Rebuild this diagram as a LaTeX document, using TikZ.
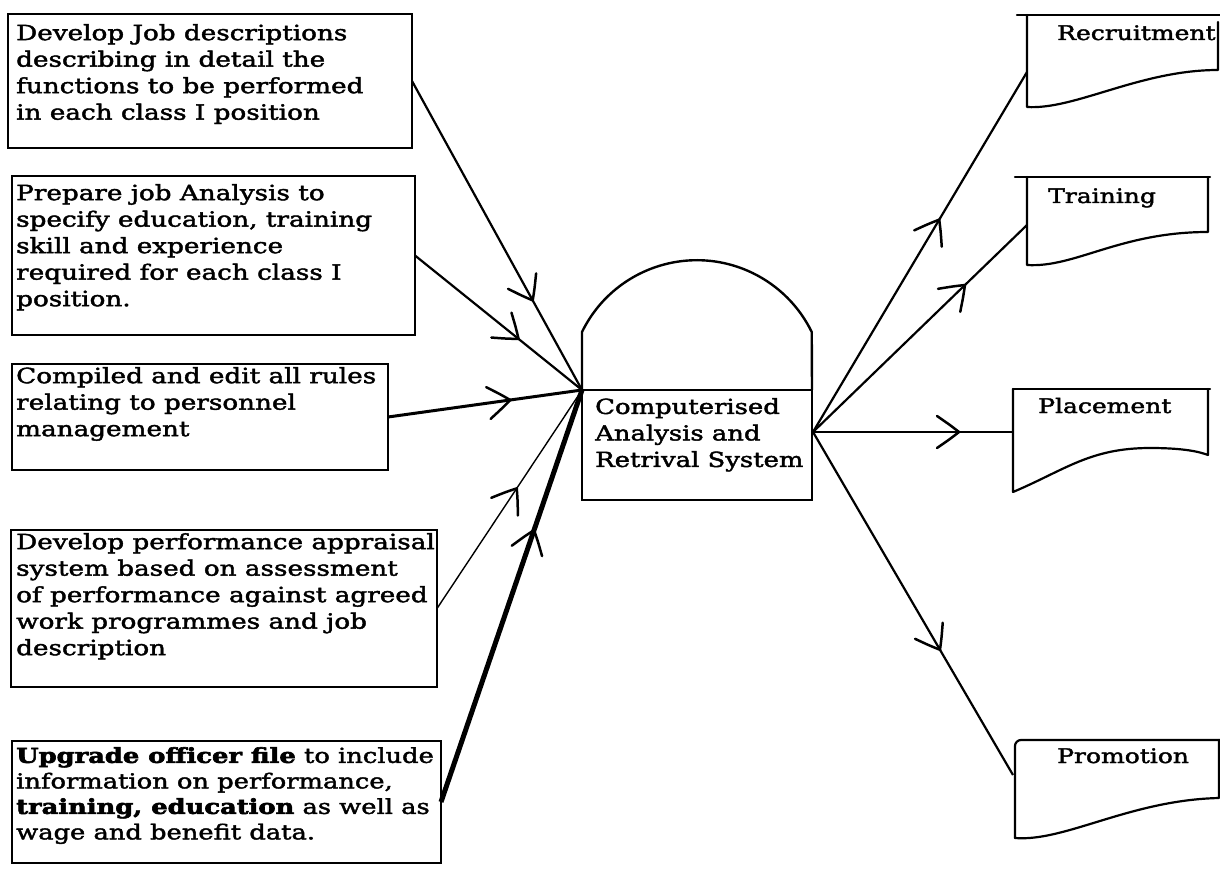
\documentclass[tikz,border=0pt]{standalone}
\usepackage{fontspec}
\setmainfont{DejaVu Serif}[FakeStretch=1.25, UprightFeatures={FakeBold=2}, BoldFeatures={FakeBold=3}]
\usetikzlibrary{arrows.meta,decorations.markings}
\begin{document}
\begin{tikzpicture}[x=1pt,y=-1pt,
  box/.style={draw, line width=2.2pt, inner sep=0, outer sep=0, anchor=north west},
  txt/.style={inner sep=0, anchor=north west, align=left, font=\fontsize{21}{26.5}\selectfont},
  lbl/.style={inner sep=0, anchor=base west, font=\fontsize{20}{24}\selectfont},
  flowline/.style={line width=2.2pt, postaction={decorate}, decoration={markings, mark=at position #1 with {\draw[line width=2.5pt, line cap=round, solid] (-22pt,16pt) .. controls (-9pt,7pt) .. (0pt,0pt) .. controls (-9pt,-7pt) .. (-22pt,-16pt);}}},
  doc/.style={line width=2.2pt, line join=round, line cap=round}
]
\useasboundingbox (0,0) rectangle (1220,869);
% left boxes
\node[box, minimum width=404, minimum height=134] (b1) at (8,14) {};
\node[box, minimum width=403, minimum height=159] (b2) at (12,176) {};
\node[box, minimum width=376, minimum height=106] (b3) at (12,364) {};
\node[box, minimum width=426, minimum height=157] (b4) at (11,530) {};
\node[box, minimum width=429, minimum height=122] (b5) at (12,741) {};
\node[txt] (t1) at (16,24) {Develop Job descriptions\\describing in detail the\\functions to be performed\\in each class I position};
\node[txt] (t2) at (16,184) {Prepare job Analysis to\\specify education, training\\skill and experience\\required for each class I\\position.};
\node[txt] (t3) at (16,367) {Compiled and edit all rules\\relating to personnel\\management};
\node[txt] (t4) at (16,533) {Develop performance appraisal\\system based on assessment\\of performance against agreed\\work programmes and job\\description};
\node[txt, font=\fontsize{20.6}{25.5}\selectfont] (t5) at (16,747) {\textbf{Upgrade officer file} to include\\information on performance,\\\textbf{training, education} as well as\\wage and benefit data.};
% centre
\node[box, line width=2.4pt, minimum width=230, minimum height=110] (c) at (582,390) {};
\draw[line width=2.4pt, line join=round] (c.north west) -- ++(0,-58) arc[start angle=206, end angle=334, radius=127.8] -- (c.north east);
\node[txt, font=\fontsize{20.7}{26.5}\selectfont] (ct) at (595,398) {Computerised\\Analysis and\\Retrival System};
\coordinate (cr) at (813,432);
% inputs
\draw[flowline=0.71] (b1.east) -- (c.north west);
\draw[flowline=0.62] (b2.east) -- (c.north west);
\draw[flowline=0.63, line width=3pt] (b3.east) -- (c.north west);
\draw[flowline=0.55, line width=1.4pt] (b4.east) -- (c.north west);
\draw[flowline=0.66, line width=5pt] (b5.east) -- (c.north west);
% documents
\draw[doc] (1017,15) -- (1220,15);
\draw[doc] (1027,15) -- (1027,107) .. controls (1075,110) and (1140,70) .. (1218,70) -- (1218,22);
\coordinate (recA) at (1027,72);
\node[lbl] (recL) at (1057,40) {Recruitment};
\draw[doc] (1015,177) -- (1210,177);
\draw[doc] (1027,177) -- (1027,265) .. controls (1075,268) and (1120,232) .. (1208,232) -- (1208,177);
\coordinate (traA) at (1027,225);
\node[lbl] (traL) at (1048,203) {Training};
\draw[doc] (1013,389) -- (1210,389);
\draw[doc] (1013,389) -- (1013,492) .. controls (1065,470) and (1090,448) .. (1150,448) .. controls (1185,448) and (1200,452) .. (1208,455) -- (1208,389);
\coordinate (plaA) at (1013,432);
\node[lbl] (plaL) at (1038,413) {Placement};
\draw[doc, rounded corners=6pt] (1220,740) -- (1015,740) -- (1015,838);
\draw[doc] (1015,838) .. controls (1065,842) and (1130,800) .. (1219,798) -- (1219,740);
\coordinate (proA) at (1013,775);
\node[lbl] (proL) at (1057,763) {Promotion};
% outputs
\draw[flowline=0.59] (cr) -- (recA);
\draw[flowline=0.71] (cr) -- (traA);
\draw[flowline=0.73] (cr) -- (plaA);
\draw[flowline=0.635] (cr) -- (proA);
\end{tikzpicture}
\end{document}
